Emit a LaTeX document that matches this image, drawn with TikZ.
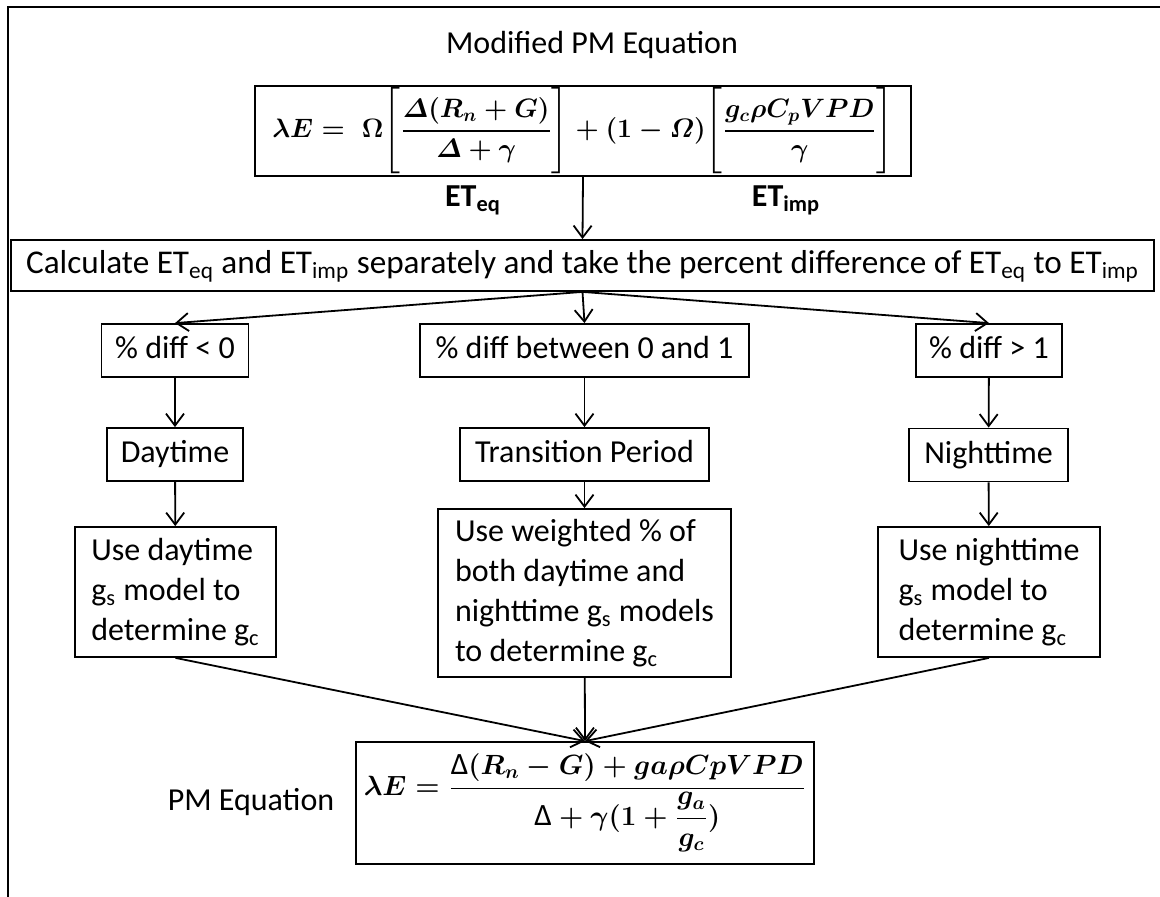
\RequirePackage{fix-cm}
\documentclass[tikz,border=0pt]{standalone}
\usepackage{amsmath}
\usepackage{fontspec}
\setmainfont{Carlito}
\usetikzlibrary{arrows.meta, positioning}

\newcommand{\modpmeq}{$\displaystyle \lambda E = \;\Omega\Biggl[\frac{\mathnormal{\Delta}(R_n+G)}{\mathnormal{\Delta}+\gamma}\Biggr]+(1-\mathnormal{\Omega})\Biggl[\frac{g_c\rho C_pVPD}{\gamma}\Biggr]$}
\newcommand{\bigdelta}{\text{\fontsize{15.5}{16}\selectfont Δ}}
\newcommand{\pmeq}{$\displaystyle \lambda E=\frac{\bigdelta(R_n-G)+ga\rho CpVPD}{\bigdelta+\gamma(1+\dfrac{g_a}{g_c})}$}

\tikzset{
    boxbase/.style={draw, line width=0.9pt, inner sep=2pt,
        font=\fontsize{16}{20}\selectfont},
    procbox/.style={boxbase, text height=11.5pt, text depth=3.5pt},
    textbox/.style={boxbase, align=left},
    eqbox/.style={draw, line width=0.9pt, inner sep=1pt, font=\fontsize{13.9}{17}\selectfont\boldmath},
    flow/.style={line width=0.9pt, -{Straight Barb[length=6pt, width=9pt]}},
    plain/.style={font=\fontsize{16}{20}\selectfont}
}

\begin{document}
\begin{tikzpicture}[x=0.5pt, y=-0.5pt]
    \useasboundingbox (0,0) rectangle (1160,897);
    % outer frame, left and top sides only
    \draw [line width=1.3pt] (8,897) -- (8,7) -- (1160,7);

    \node (title) [plain] at (592,45) {Modified PM Equation};
    \node (ETeq) [plain] at (473,200) {\textbf{ET\textsubscript{eq}}};
    \node (ETimp) [plain] at (786,200) {\textbf{ET\textsubscript{imp}}};

    \node (calc) [procbox, font=\fontsize{16.6}{20}\selectfont, minimum width=571.5pt, minimum height=25.5pt] at (582.5,265.5)
        {Calculate ET\textsubscript{eq} and ET\textsubscript{imp} separately and take the percent difference of ET\textsubscript{eq} to ET\textsubscript{imp}};

    % branches
    \node (neg) [procbox, minimum width=73.5pt, minimum height=26.5pt] at (175,350.5) {\% diff < 0};
    \node (mid) [procbox, minimum width=164.5pt, minimum height=26.5pt] at (584.5,350.5) {\% diff between 0 and 1};
    \node (pos) [procbox, minimum width=73pt, minimum height=26.5pt] at (989,350.5) {\% diff > 1};

    \node (day) [procbox, minimum width=68pt, minimum height=26.5pt] at (175,454.5) {Daytime};
    \node (trans) [procbox, minimum width=124.5pt, minimum height=26.5pt] at (584.5,454.5) {Transition Period};
    \node (night) [procbox, minimum width=79.5pt, minimum height=26.5pt] at (988.5,455) {Nighttime};

    \node (useday) [textbox, minimum width=100.5pt, minimum height=65pt] at (175.5,592)
        {Use daytime\\g\textsubscript{s} model to\\determine g\textsubscript{c}};
    \node (useweight) [textbox, minimum width=146.5pt, minimum height=84pt] at (584.5,593)
        {Use weighted \% of\\both daytime and\\nighttime g\textsubscript{s} models\\to determine g\textsubscript{c}};
    \node (usenight) [textbox, minimum width=111pt, minimum height=65pt] at (989,592)
        {Use nighttime\\g\textsubscript{s} model to\\determine g\textsubscript{c}};

    \node (PMlabel) [plain] at (251,802) {PM Equation};
    \node (PMmod) [eqbox, font=\fontsize{13.3}{16}\selectfont\boldmath, minimum width=328pt, minimum height=42pt] at (583,131) {\modpmeq};
    \node (PM) [eqbox, minimum width=229pt, minimum height=61pt] at (585,803) {\pmeq};

    \path (PMmod.south) [flow] edge (calc.north);
    \path (calc.south) [flow] edge (neg.north);
    \path (calc.south) [flow] edge (mid.north);
    \path (calc.south) [flow] edge (pos.north);
    \path (neg) [flow] edge (day);
    \path (mid) [flow] edge (trans);
    \path (pos) [flow] edge (night);
    \path (day) [flow] edge (useday);
    \path (trans) [flow] edge (useweight);
    \path (night) [flow] edge (usenight);
    \path (useday.south) [flow] edge (PM.north);
    \path (useweight) [flow] edge (PM.north);
    \path (usenight.south) [flow] edge (PM.north);
\end{tikzpicture}
\end{document}
